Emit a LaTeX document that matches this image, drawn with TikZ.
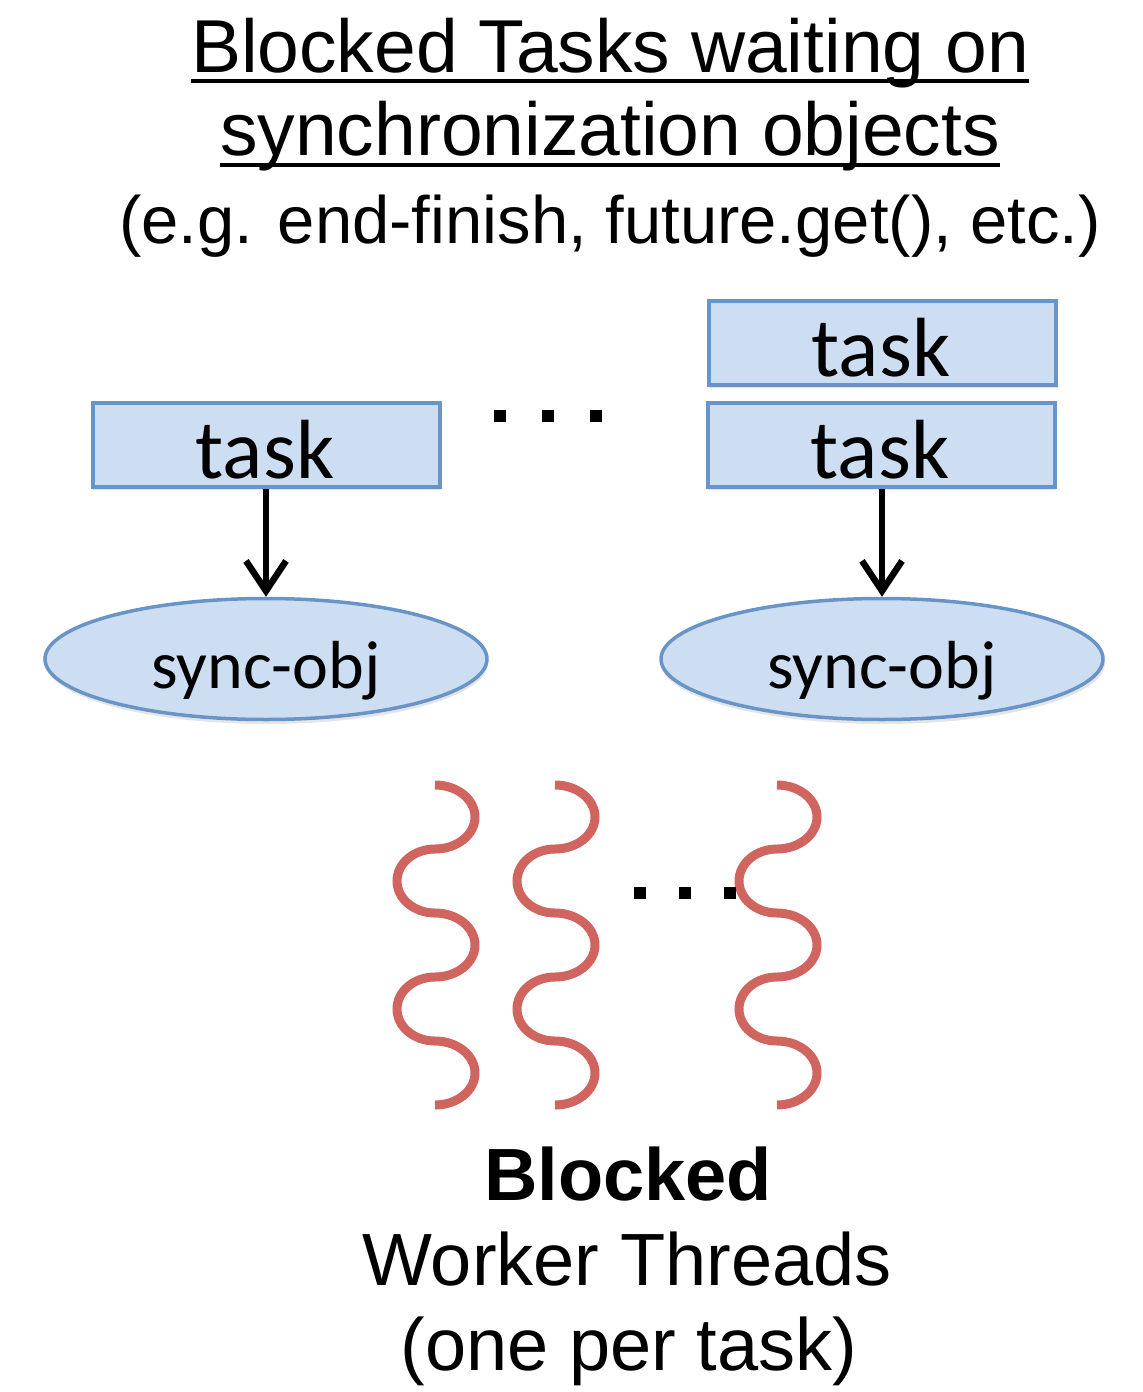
\documentclass[tikz,border=0pt]{standalone}
\usepackage{fontspec}
\setmainfont{Liberation Sans}
\newfontfamily\calfont{Carlito}
\usetikzlibrary{arrows.meta,shapes.geometric}
\definecolor{boxfill}{RGB}{206,222,242}
\definecolor{boxline}{RGB}{104,148,200}
\definecolor{thread}{RGB}{208,100,95}
\tikzset{
  taskbox/.style={draw=boxline, line width=3.5pt, fill=boxfill, minimum width=347pt, minimum height=84pt, inner sep=0pt, anchor=north west},
  syncobj/.style={draw=boxline, line width=3.5pt, fill=boxfill, ellipse, minimum width=442pt, minimum height=121pt, inner sep=0pt},
  shadowbox/.style={fill=black!25, opacity=0.4},
  tasktxt/.style={font=\calfont\fontsize{84}{92}\selectfont, anchor=base, inner sep=0pt},
  synctxt/.style={font=\calfont\fontsize{68}{76}\selectfont, anchor=base, inner sep=0pt},
  titletxt/.style={font=\fontsize{75}{82}\selectfont, anchor=base, inner sep=0pt},
  subtxt/.style={font=\fontsize{67}{74}\selectfont, anchor=base, inner sep=0pt},
  bottxt/.style={font=\fontsize{74}{80}\selectfont, anchor=base, inner sep=0pt},
  waitarrow/.style={line width=6.5pt, -{Straight Barb[length=30pt,width=40pt,line width=6.5pt]}},
  threadline/.style={draw=thread, line width=9pt},
  dotsq/.style={fill=black, minimum size=12pt, inner sep=0pt}
}
\begin{document}
\begin{tikzpicture}[x=1pt,y=1pt]
\useasboundingbox (0,0) rectangle (1143,-1392);
% title
\node[titletxt] (t1) at (610,-72) {Blocked Tasks waiting on};
\node[titletxt] (t2) at (610,-155) {synchronization objects};
\node[subtxt] (t3) at (610,-243) {(e.g. end-finish, future.get(), etc.)};
\draw[line width=3.5pt] ([yshift=-9pt]t1.base west) -- ([yshift=-9pt]t1.base east);
\draw[line width=3.5pt] ([yshift=-10pt]t2.base west) -- ([yshift=-10pt]t2.base east);
% shadows
\fill[shadowbox] (93,-405) rectangle (441,-490);
\fill[shadowbox] (708,-405) rectangle (1056,-490);
\fill[shadowbox] (709,-303) rectangle (1058,-388);
\fill[shadowbox] (267,-663) ellipse (221pt and 61pt);
\fill[shadowbox] (883,-663) ellipse (222pt and 61pt);
% tasks
\node[taskbox] (ta) at (91,-401) {};
\node[taskbox] (tb) at (706,-401) {};
\node[taskbox] (tc) at (707,-299) {};
\node[tasktxt] (la) at (265,-478) {task};
\node[tasktxt] (lb) at (880,-478) {task};
\node[tasktxt] (lc) at (881,-376) {task};
% dots
\node[dotsq] (d1) at (500,-416) {};
\node[dotsq] (d2) at (548,-416) {};
\node[dotsq] (d3) at (596,-416) {};
% sync objects
\node[syncobj] (sa) at (266,-659) {};
\node[syncobj] (sb) at (882,-659) {};
\node[synctxt] at (266,-688) {sync-obj};
\node[synctxt] at (882,-688) {sync-obj};
% arrows
\draw[waitarrow] (ta.south -| sa.north) -- (sa.north);
\draw[waitarrow] (tb.south -| sb.north) -- (sb.north);
% threads
\foreach \xx in {435,555,777}{
  \draw[threadline] (\xx,-785)
    arc[start angle=90, end angle=-90, x radius=40pt, y radius=32pt]
    arc[start angle=90, end angle=270, x radius=38pt, y radius=32pt]
    arc[start angle=90, end angle=-90, x radius=40pt, y radius=32pt]
    arc[start angle=90, end angle=270, x radius=38pt, y radius=32pt]
    arc[start angle=90, end angle=-90, x radius=40pt, y radius=32pt];
}
\node[dotsq] (e1) at (640,-893) {};
\node[dotsq] (e2) at (685,-893) {};
\node[dotsq] (e3) at (730,-893) {};
% bottom
\node[bottxt, font=\bfseries\fontsize{74}{80}\selectfont] (b1) at (628,-1200) {Blocked};
\node[bottxt] (b2) at (627,-1285) {Worker Threads};
\node[bottxt] (b3) at (629,-1370) {(one per task)};
\end{tikzpicture}
\end{document}
